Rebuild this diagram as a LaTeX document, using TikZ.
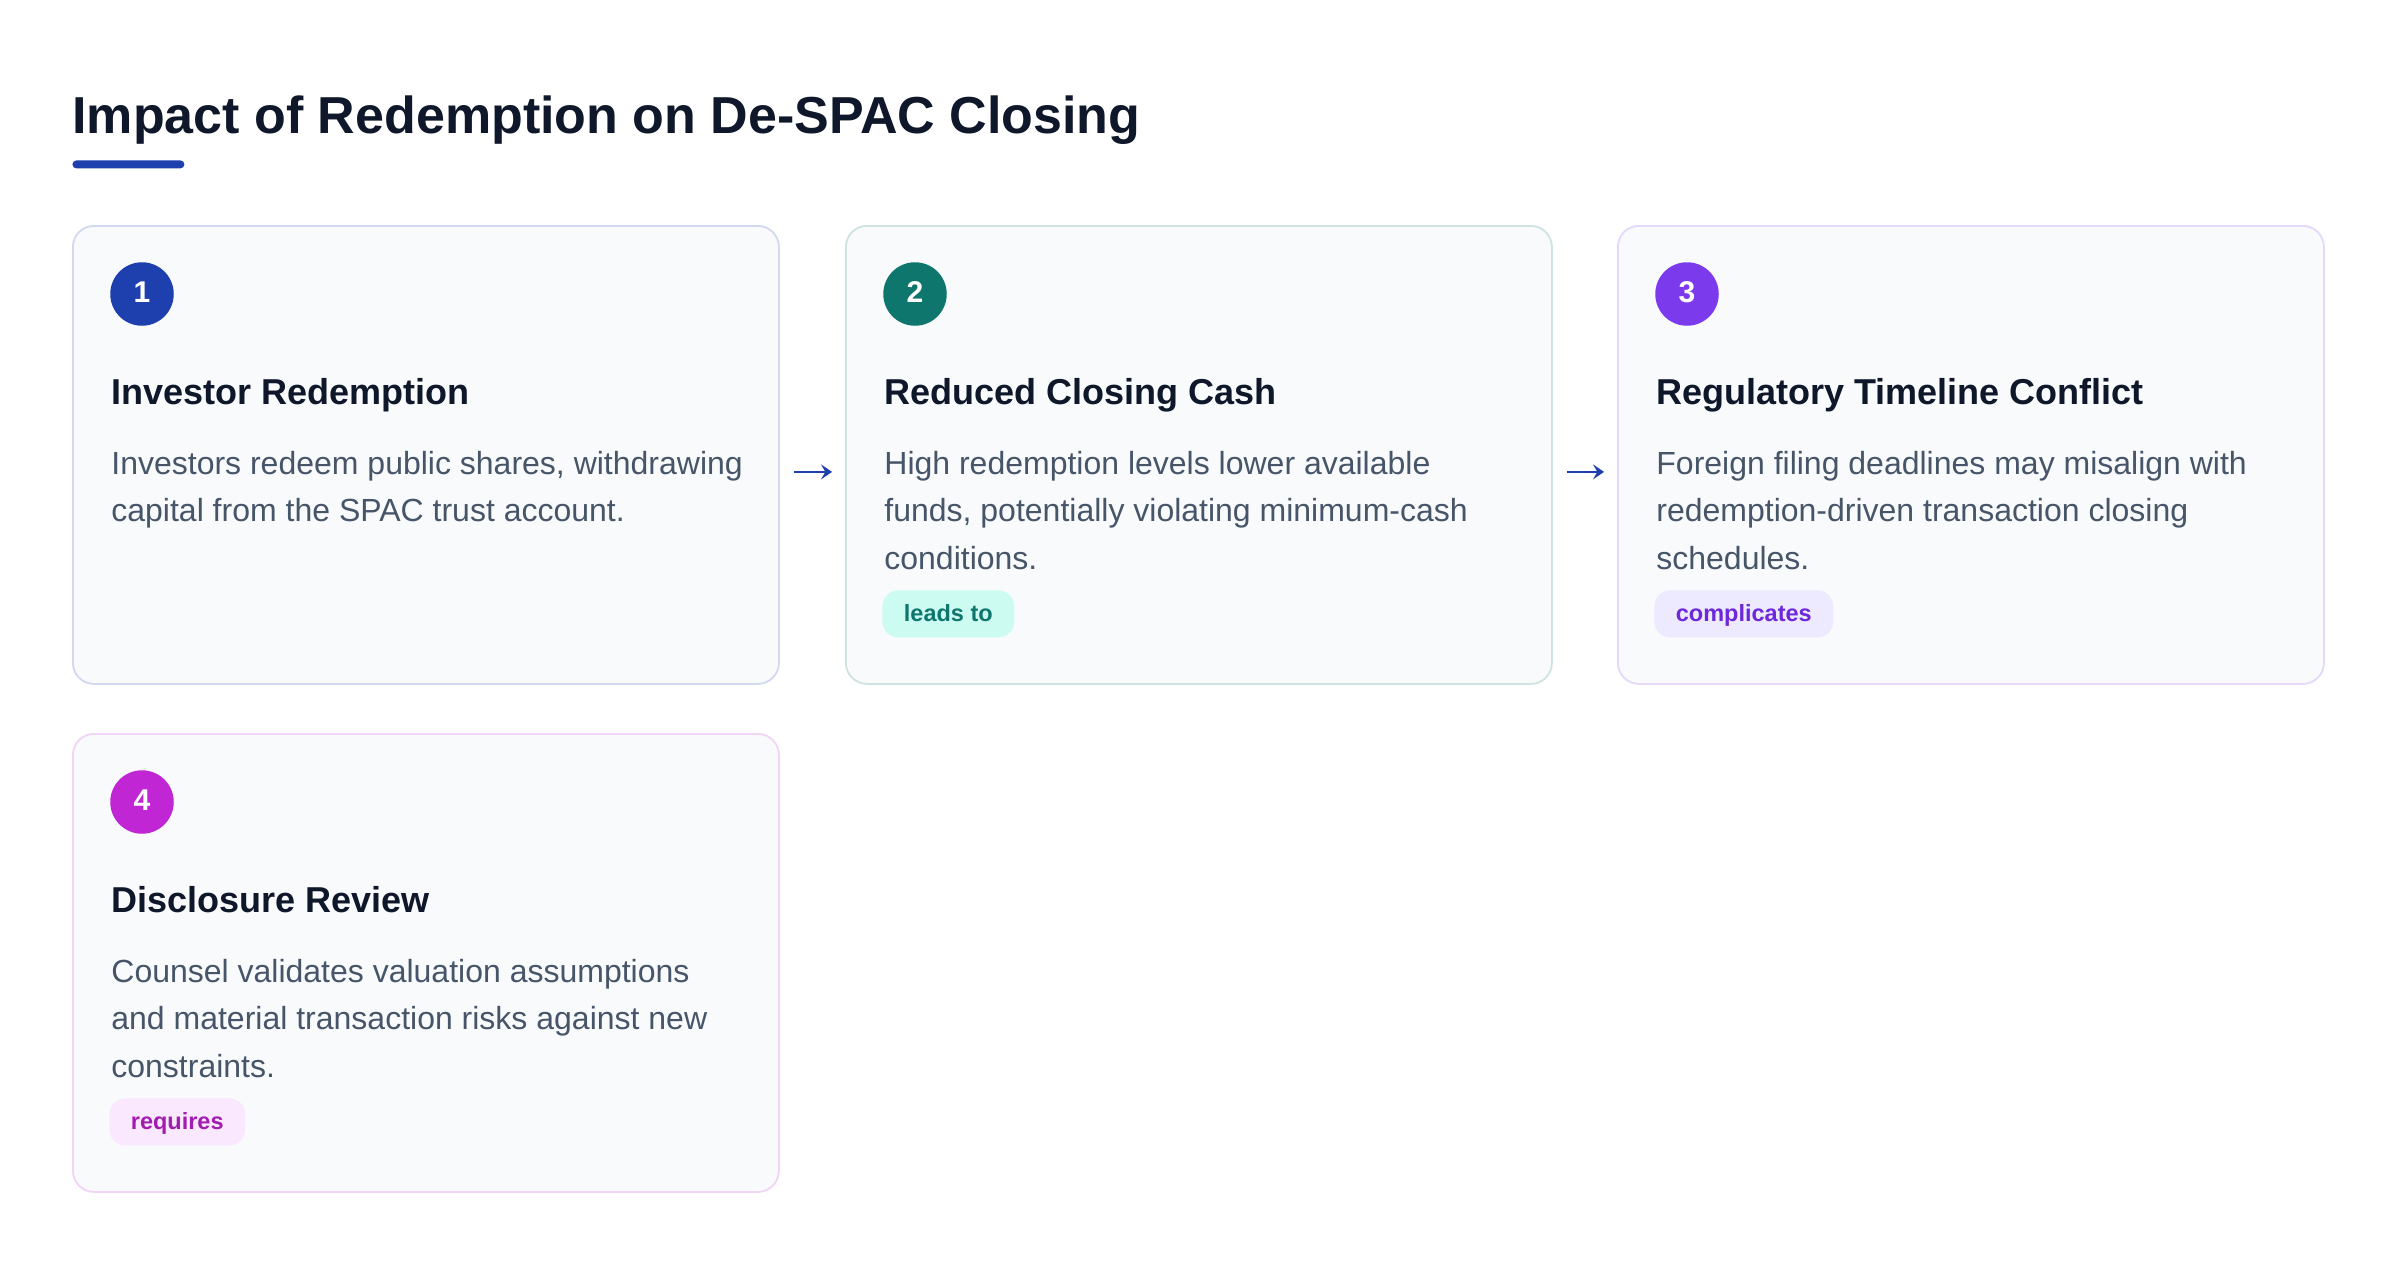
\documentclass[tikz,border=0pt]{standalone}
\usepackage{fontspec}
\setmainfont{Liberation Sans}
\usetikzlibrary{calc,arrows.meta}
\definecolor{ink}{HTML}{0F172A}
\definecolor{bodyc}{HTML}{475569}
\definecolor{cardbg}{HTML}{F8FAFC}
\definecolor{blueA}{HTML}{1E40AF}
\definecolor{tealA}{HTML}{0F766E}
\definecolor{violetA}{HTML}{7C3AED}
\definecolor{fuchsiaA}{HTML}{C026D3}
\definecolor{bdBlue}{HTML}{D2D9EF}
\definecolor{bdTeal}{HTML}{CFE4E2}
\definecolor{bdViolet}{HTML}{E5D8FB}
\definecolor{bdFuchsia}{HTML}{F2D4F6}
\definecolor{bgTeal}{HTML}{CCFBF1}
\definecolor{bgViolet}{HTML}{EDE9FE}
\definecolor{bgFuchsia}{HTML}{FAE8FF}
\definecolor{txViolet}{HTML}{6D28D9}
\definecolor{txFuchsia}{HTML}{A21CAF}
\begin{document}
\begin{tikzpicture}[x=0.5pt,y=-0.5pt,
  card/.style={draw=#1, fill=cardbg, line width=0.9pt, rounded corners=10.5pt,
    minimum width=353pt, minimum height=229pt, inner sep=0pt, anchor=north west},
  num/.style={circle, fill=#1, text=white, minimum size=31.75pt, inner sep=0pt,
    text depth=2pt, font=\fontsize{15}{15}\selectfont\bfseries},
  head/.style={anchor=base west, inner sep=0pt, text=ink,
    font=\fontsize{18}{22}\selectfont\bfseries},
  body/.style={anchor=base west, inner sep=0pt, text=bodyc,
    font=\fontsize{16}{23.75}\selectfont},
  badge/.style 2 args={anchor=north west, fill=#1, text=#2, rounded corners=8pt,
    minimum height=23.5pt, inner xsep=10.75pt, inner ysep=0pt,
    text height=8.7pt, text depth=1.5pt,
    font=\fontsize{11.75}{14}\selectfont\bfseries},
  flow/.style={draw=blueA, line width=0.9pt,
    -{Stealth[length=5.5pt,width=7.5pt,inset=2.2pt]}}
]
\fill[white] (0,0) rectangle (2400,1264);
\useasboundingbox (0,0) rectangle (2400,1264);

% title
\node[anchor=base west, inner sep=0pt, text=ink,
  font=\fontsize{26}{30}\selectfont\bfseries] (title) at (72,133)
  {Impact of Redemption on De-SPAC Closing};
\node[fill=blueA, anchor=north west, inner sep=0pt, minimum width=56pt,
  minimum height=4pt, rounded corners=2pt] (bar) at (72,160) {};

% cards
\node[card=bdBlue] (c1) at (72,225) {};
\node[card=bdTeal] (c2) at (845,225) {};
\node[card=bdViolet] (c3) at (1617,225) {};
\node[card=bdFuchsia] (c4) at (72,733) {};

% numbers
\node[num=blueA] (n1) at ($(c1.north west)+(70,69)$) {1};
\node[num=tealA] (n2) at ($(c2.north west)+(70,69)$) {2};
\node[num=violetA] (n3) at ($(c3.north west)+(70,69)$) {3};
\node[num=fuchsiaA] (n4) at ($(c4.north west)+(70,69)$) {4};

% headings
\node[head] (h1) at ($(c1.north west)+(39,179)$) {Investor Redemption};
\node[head] (h2) at ($(c2.north west)+(39,179)$) {Reduced Closing Cash};
\node[head] (h3) at ($(c3.north west)+(39,179)$) {Regulatory Timeline Conflict};
\node[head] (h4) at ($(c4.north west)+(39,179)$) {Disclosure Review};

% bodies
\node[body] (b1) at ($(c1.north west)+(39,249)$) {\parbox[t]{340pt}{%
  Investors redeem public shares, withdrawing\\
  capital from the SPAC trust account.}};
\node[body] (b2) at ($(c2.north west)+(39,249)$) {\parbox[t]{340pt}{%
  High redemption levels lower available\\
  funds, potentially violating minimum-cash\\
  conditions.}};
\node[body] (b3) at ($(c3.north west)+(39,249)$) {\parbox[t]{340pt}{%
  Foreign filing deadlines may misalign with\\
  redemption-driven transaction closing\\
  schedules.}};
\node[body] (b4) at ($(c4.north west)+(39,249)$) {\parbox[t]{340pt}{%
  Counsel validates valuation assumptions\\
  and material transaction risks against new\\
  constraints.}};

% badges
\node[badge={bgTeal}{tealA}] (g2) at ($(c2.north west)+(37,365)$) {leads to};
\node[badge={bgViolet}{txViolet}] (g3) at ($(c3.north west)+(37,365)$) {complicates};
\node[badge={bgFuchsia}{txFuchsia}] (g4) at ($(c4.north west)+(37,365)$) {requires};

% connectors
\draw[flow] ($(c1.east)+(14,17)$) -- ($(c2.west)+(-13,17)$);
\draw[flow] ($(c2.east)+(14,17)$) -- ($(c3.west)+(-13,17)$);
\end{tikzpicture}
\end{document}
